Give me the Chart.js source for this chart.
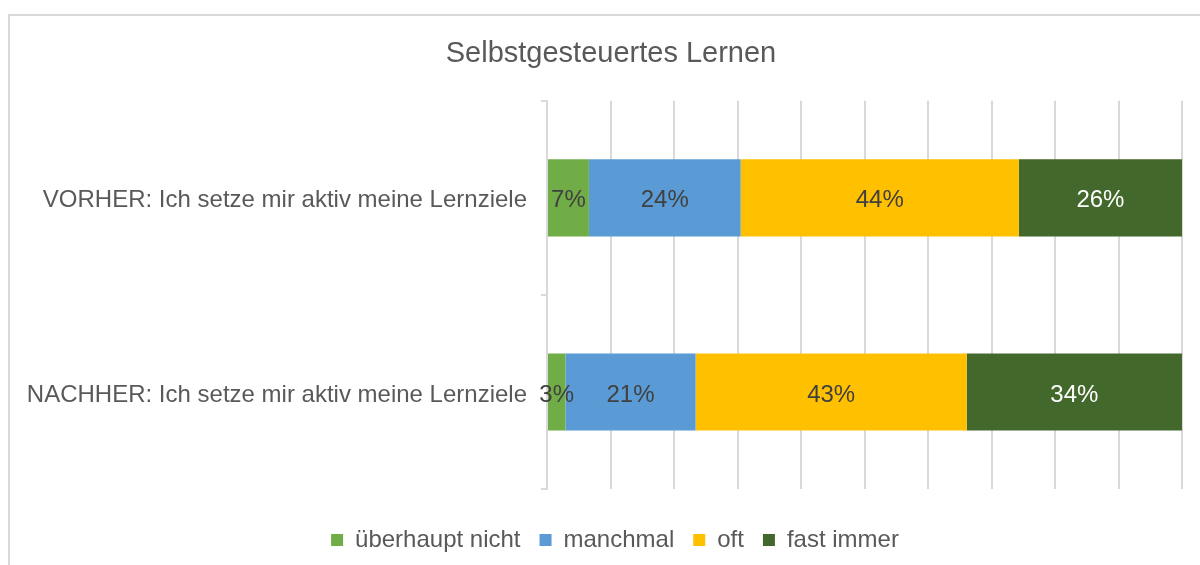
<!DOCTYPE html>
<html>
<head>
<meta charset="utf-8">
<script src="https://cdn.jsdelivr.net/npm/chart.js@4/dist/chart.umd.min.js"></script>
<style>
  html, body { margin: 0; padding: 0; background: #ffffff; }
  canvas { display: block; }
</style>
</head>
<body>
<canvas id="c" width="1200" height="565"></canvas>
<script>
// ---- data (percent) ----
const categories = [
  "VORHER: Ich setze mir aktiv meine Lernziele",
  "NACHHER: Ich setze mir aktiv meine Lernziele"
];
const seriesNames = ["überhaupt nicht", "manchmal", "oft", "fast immer"];
const ueberhauptNicht = [6.6, 2.9];
const manchmal = [23.9, 20.5];
const oft = [43.8, 42.7];
const fastImmer = [25.7, 33.9];
const xTicks = [0, 10, 20, 30, 40, 50, 60, 70, 80, 90, 100];
const titleText = "Selbstgesteuertes Lernen";

const colors = ["#70AD47", "#5B9BD5", "#FFC000", "#43682B"];
const labelColors = ["#404040", "#404040", "#404040", "#FFFFFF"];
const seriesValues = [ueberhauptNicht, manchmal, oft, fastImmer];

const FONT = "'Liberation Sans', Arial, sans-serif";

const frame = {
  id: "frame",
  afterLayout(chart) {
    // center title and legend like the original (offset to the right)
    if (chart.legend) { chart.legend.left += 19; chart.legend.right += 19; }
    if (chart.titleBlock) { chart.titleBlock.left += 15; chart.titleBlock.right += 15; }
  },
  beforeDraw(chart) {
    const ctx = chart.ctx;
    ctx.save();
    ctx.fillStyle = "#ffffff";
    ctx.fillRect(0, 0, chart.width, chart.height);
    ctx.strokeStyle = "#d9d9d9";
    ctx.lineWidth = 2;
    ctx.strokeRect(9, 15, 1220, 620);
    ctx.restore();
  }
};

const valueLabels = {
  id: "valueLabels",
  afterDatasetsDraw(chart) {
    const ctx = chart.ctx;
    ctx.save();
    ctx.font = "24px " + FONT;
    ctx.textAlign = "center";
    ctx.textBaseline = "middle";
    chart.data.datasets.forEach((ds, di) => {
      const meta = chart.getDatasetMeta(di);
      meta.data.forEach((bar, i) => {
        const v = ds.data[i];
        const p = bar.getProps(["x", "y", "base"], true);
        ctx.fillStyle = labelColors[di];
        ctx.fillText(Math.round(v) + "%", (p.x + p.base) / 2, p.y + 3);
      });
    });
    ctx.restore();
  }
};

new Chart(document.getElementById("c"), {
  type: "bar",
  data: {
    labels: categories,
    datasets: seriesNames.map((name, i) => ({
      label: name,
      data: seriesValues[i],
      backgroundColor: colors[i],
      borderWidth: 0,
      categoryPercentage: 1,
      barPercentage: 0.397
    }))
  },
  options: {
    indexAxis: "y",
    responsive: false,
    animation: false,
    devicePixelRatio: 1,
    layout: { padding: { left: 10, right: 18, top: 0, bottom: 3 } },
    plugins: {
      title: {
        display: true,
        text: titleText,
        color: "#595959",
        font: { family: FONT, size: 29, weight: "normal" },
        padding: { top: 37, bottom: 29 }
      },
      legend: {
        position: "bottom",
        labels: {
          color: "#595959",
          font: { family: FONT, size: 24 },
          boxWidth: 12,
          boxHeight: 12,
          padding: 19
        }
      },
      tooltip: { enabled: false }
    },
    scales: {
      x: {
        stacked: true,
        min: 0,
        max: 100,
        afterBuildTicks(scale) { scale.ticks = xTicks.map(v => ({ value: v })); },
        afterFit(scale) { scale.height = 20; },
        ticks: { display: false },
        grid: { color: "#d9d9d9", lineWidth: 2, drawTicks: false },
        border: { display: false }
      },
      y: {
        stacked: true,
        afterFit(scale) { scale.width = 537; },
        ticks: {
          color: "#595959",
          font: { family: FONT, size: 24 },
          padding: 14,
          labelOffset: 3
        },
        grid: {
          offset: true,
          drawOnChartArea: false,
          drawTicks: true,
          tickLength: 6,
          color: "#d9d9d9",
          lineWidth: 2
        },
        border: { display: true, color: "#d9d9d9", width: 2 }
      }
    }
  },
  plugins: [frame, valueLabels]
});
</script>
</body>
</html>
